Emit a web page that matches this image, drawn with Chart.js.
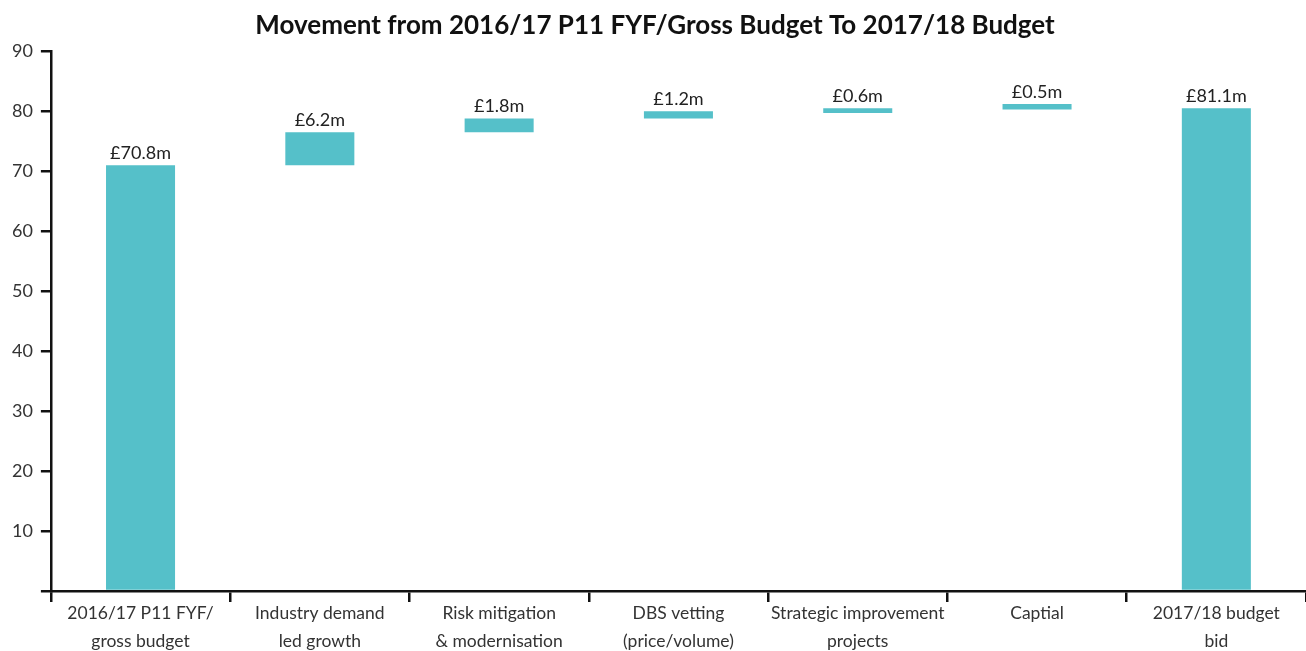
<!DOCTYPE html>
<html>
<head>
<meta charset="utf-8">
<script src="https://cdn.jsdelivr.net/npm/chart.js@4"></script>
<style>
  html, body { margin: 0; padding: 0; background: #fff; }
  #wrap { width: 1306px; height: 651px; }
</style>
</head>
<body>
<div id="wrap"><canvas id="chartWaterfall"></canvas></div>
<script>
// categories (x axis labels, two lines each)
const categories = [
  ["2016/17 P11 FYF/", "gross budget"],
  ["Industry demand", "led growth"],
  ["Risk mitigation", "& modernisation"],
  ["DBS vetting", "(price/volume)"],
  ["Strategic improvement", "projects"],
  ["Captial", ""],
  ["2017/18 budget", "bid"],
];
// floating bar bounds
const barStart = [0, 71, 76.5, 78.8, 79.7, 80.3, 0];
const barEnd = [71, 76.5, 78.8, 80, 80.5, 81.2, 80.5];
// value labels shown above bars
const valueLabels = ["£70.8m", "£6.2m", "£1.8m", "£1.2m", "£0.6m", "£0.5m", "£81.1m"];
const yTicks = [0, 10, 20, 30, 40, 50, 60, 70, 80, 90];

const FONT = "Lato";
const barColor = "#55C0C9";

// draw the value text above each bar
const valueLabelPlugin = {
  id: "valueLabels",
  afterDatasetsDraw(chart) {
    const ctx = chart.ctx;
    const meta = chart.getDatasetMeta(0);
    ctx.save();
    ctx.font = "18px " + FONT;
    ctx.fillStyle = "#222";
    ctx.textAlign = "center";
    ctx.textBaseline = "bottom";
    meta.data.forEach((bar, i) => {
      const top = Math.min(bar.y, bar.base);
      ctx.fillText(valueLabels[i], bar.x, top - 3);
    });
    ctx.restore();
  },
};

const ctx = document.getElementById("chartWaterfall").getContext("2d");
const chart = new Chart(ctx, {
  type: "bar",
  data: {
    labels: categories,
    datasets: [
      {
        data: barStart.map((s, i) => [s, barEnd[i]]),
        backgroundColor: barColor,
        borderWidth: 0,
        barPercentage: 0.385,
        categoryPercentage: 1,
      },
    ],
  },
  options: {
    responsive: true,
    maintainAspectRatio: false,
    animation: false,
    layout: { padding: { left: 4, right: 0, top: 0, bottom: 0 } },
    plugins: {
      legend: { display: false },
      tooltip: { enabled: false },
      title: {
        display: true,
        text: "Movement from 2016/17 P11 FYF/Gross Budget To 2017/18 Budget",
        color: "#111",
        font: { family: FONT, size: 26, weight: "bold" },
        padding: { top: 10, bottom: 10 },
      },
    },
    scales: {
      x: {
        // fixed height so the plot bottom lands where the reference has it
        afterFit(axis) {
          axis.height = 60;
        },
        grid: {
          offset: true,
          drawOnChartArea: false,
          tickLength: 11,
          color: "#111",
          lineWidth: 2.5,
        },
        border: { color: "#111", width: 2.5 },
        ticks: {
          color: "#333",
          font: { family: FONT, size: 17.5, lineHeight: 1.6 },
          maxRotation: 0,
          autoSkip: false,
          padding: -3,
        },
      },
      y: {
        min: 0,
        max: 90,
        afterBuildTicks(axis) {
          axis.ticks = yTicks.map((v) => ({ value: v }));
        },
        grid: {
          drawOnChartArea: false,
          tickLength: 10,
          color: "#111",
          lineWidth: 2.5,
        },
        border: { color: "#111", width: 2.5 },
        ticks: {
          color: "#333",
          font: { family: FONT, size: 18 },
          padding: 8,
          callback: (v) => (v === 0 ? "" : v),
        },
      },
    },
  },
  plugins: [valueLabelPlugin],
});
</script>
</body>
</html>
